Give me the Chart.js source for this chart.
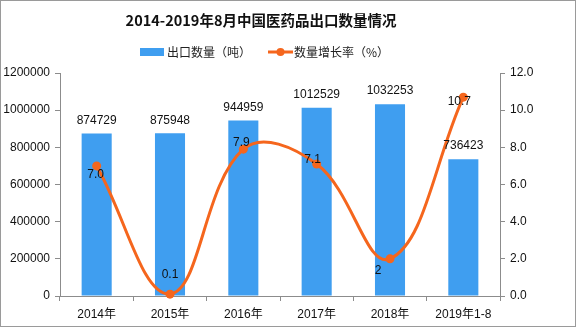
<!DOCTYPE html>
<html><head><meta charset="utf-8">
<script src="https://cdn.jsdelivr.net/npm/chart.js@4/dist/chart.umd.min.js"></script>
<style>
html,body{margin:0;padding:0;background:#fff;}
#wrap{position:relative;width:576px;height:327px;}
#frame{position:absolute;left:0;top:0;width:576px;height:327px;box-sizing:border-box;border:1px solid #9a9a9a;pointer-events:none;}
</style></head>
<body>
<div id="wrap"><canvas id="c" width="576" height="327"></canvas><div id="frame"></div></div>
<script>
const categories = ['2014年','2015年','2016年','2017年','2018年','2019年1-8'];
const exportVolume = [874729, 875948, 944959, 1012529, 1032253, 736423];
const growthRate = [7.0, 0.1, 7.9, 7.1, 2, 10.7];
const growthLabels = ['7.0','0.1','7.9','7.1','2','10.7'];
const titleText = '2014-2019年8月中国医药品出口数量情况';
const seriesNames = ['出口数量（吨）','数量增长率（%）'];

const BLUE = '#3f9ef0';
const ORANGE = '#f5661d';
const AXIS = '#8c8c8c';
const FONT = '"Liberation Sans", "Noto Sans CJK SC", sans-serif';
const CJK = '"Noto Sans CJK SC", sans-serif';

const decor = {
  id: 'decor',
  afterDraw(chart) {
    const ctx = chart.ctx;
    ctx.save();
    ctx.fillStyle = '#111';
    ctx.font = 'bold 14.5px ' + CJK;
    ctx.textAlign = 'center';
    ctx.textBaseline = 'middle';
    ctx.fillText(titleText, 261, 20);
    // legend
    ctx.font = '12px ' + CJK;
    ctx.textAlign = 'left';
    ctx.fillStyle = BLUE;
    ctx.fillRect(140, 48, 24, 8);
    ctx.fillStyle = '#222';
    ctx.fillText(seriesNames[0], 167, 52);
    ctx.strokeStyle = ORANGE; ctx.lineWidth = 3;
    ctx.beginPath(); ctx.moveTo(268, 52); ctx.lineTo(293, 52); ctx.stroke();
    ctx.fillStyle = ORANGE;
    ctx.beginPath(); ctx.arc(280.5, 52, 4, 0, Math.PI*2); ctx.fill();
    ctx.fillStyle = '#222';
    ctx.fillText(seriesNames[1], 294, 52);
    ctx.restore();
  },
  afterDatasetsDraw(chart) {
    const ctx = chart.ctx;
    ctx.save();
    ctx.font = '12px ' + FONT;
    ctx.fillStyle = '#111';
    ctx.textAlign = 'center';
    ctx.textBaseline = 'middle';
    const barMeta = chart.getDatasetMeta(1);
    barMeta.data.forEach((el, i) => {
      ctx.fillText(String(exportVolume[i]), el.x, el.y - 13);
    });
    const off = chart.options.plugins.decor.lineLabelOffsets;
    const lineMeta = chart.getDatasetMeta(0);
    lineMeta.data.forEach((el, i) => {
      ctx.fillText(growthLabels[i], el.x + off[i][0], el.y + off[i][1]);
    });
    ctx.restore();
  }
};

new Chart(document.getElementById('c'), {
  data: {
    labels: categories,
    datasets: [
      {
        type: 'line', label: seriesNames[1], data: growthRate, yAxisID: 'y1', order: 0,
        borderColor: ORANGE, backgroundColor: ORANGE, borderWidth: 3,
        pointRadius: 4.5, pointBackgroundColor: ORANGE, pointBorderWidth: 0,
        tension: 0.4, clip: false
      },
      {
        type: 'bar', label: seriesNames[0], data: exportVolume, yAxisID: 'y', order: 1,
        backgroundColor: BLUE, barPercentage: 0.41, categoryPercentage: 1
      }
    ]
  },
  options: {
    responsive: false, animation: false,
    layout: { padding: { top: 73, left: 0, right: 0, bottom: 0 } },
    plugins: {
      legend: { display: false }, title: { display: false }, tooltip: { enabled: false },
      decor: { lineLabelOffsets: [[-1, 9], [0, -19], [-2, -7], [-4, -4], [-12, 12], [-4, 5]] }
    },
    scales: {
      x: {
        offset: true,
        grid: { display: true, drawOnChartArea: false, offset: true, tickLength: 5, color: AXIS, tickColor: AXIS },
        border: { color: AXIS },
        ticks: { color: '#111', font: { size: 12, family: FONT }, padding: 6, maxRotation: 0, autoSkip: false },
        afterFit(s) { s.height = 31; }
      },
      y: {
        position: 'left', min: 0, max: 1200000,
        grid: { display: true, drawOnChartArea: false, tickLength: 5, color: AXIS, tickColor: AXIS },
        border: { color: AXIS },
        ticks: { stepSize: 200000, color: '#111', font: { size: 12, family: FONT }, padding: 5,
          callback: v => String(v) },
        afterFit(s) { s.width = 60; }
      },
      y1: {
        position: 'right', min: 0, max: 12,
        grid: { display: true, drawOnChartArea: false, tickLength: 5, color: AXIS, tickColor: AXIS },
        border: { color: AXIS },
        ticks: { stepSize: 2, color: '#111', font: { size: 12, family: FONT }, padding: 5,
          callback: v => Number(v).toFixed(1) },
        afterFit(s) { s.width = 76; }
      }
    }
  },
  plugins: [decor]
});
</script>
</body></html>
